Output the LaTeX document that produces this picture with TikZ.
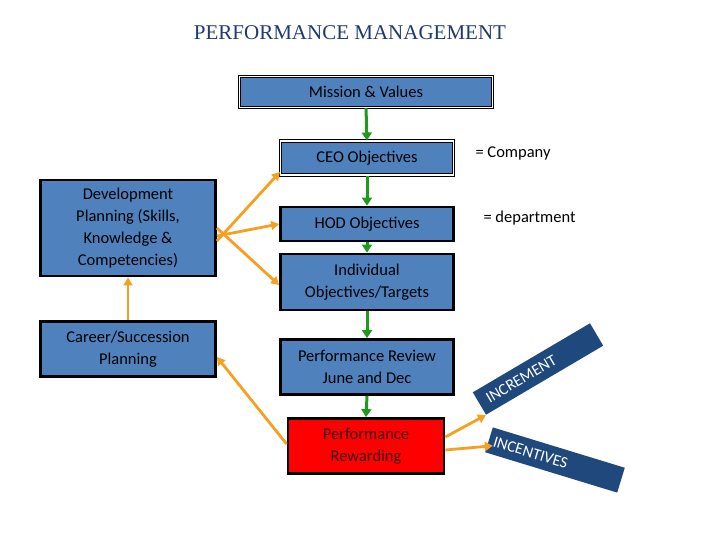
\documentclass[tikz,border=0pt]{standalone}
\usepackage{fontspec}
\setmainfont{Carlito}
\newfontfamily\titlefont{Liberation Serif}
\usetikzlibrary{arrows.meta}
\definecolor{boxblue}{HTML}{4F81BD}
\definecolor{navy}{HTML}{1F497D}
\definecolor{titleblue}{HTML}{1F3A6E}
\definecolor{orng}{HTML}{F5A020}
\definecolor{grn}{HTML}{1E9A1E}
\definecolor{rewtext}{HTML}{3A1414}
\begin{document}
\begin{tikzpicture}[x=1pt,y=-1pt,
  bx/.style={draw=black,line width=2.8pt,fill=boxblue,align=center,font=\fontsize{16.5}{22}\selectfont,inner sep=0pt},
  dbl/.style={draw=black,double=white,double distance=1.5pt,line width=1.1pt,fill=boxblue,align=center,font=\fontsize{16.5}{22}\selectfont,inner sep=0pt},
  garr/.style={draw=grn,line width=3pt,-{Triangle[length=8pt,width=10pt]}},
  oarr/.style={draw=orng,line width=2.8pt,-{Triangle[length=8pt,width=9pt]}},
  tag/.style={fill=navy,text=white,minimum height=26pt,inner sep=0pt,font=\fontsize{16}{18}\selectfont}]
\useasboundingbox (0,0) rectangle (720,540);
\node[font=\titlefont\fontsize{21}{24}\selectfont,text=titleblue] (title) at (350,33) {PERFORMANCE MANAGEMENT};
\node[dbl,minimum width=253pt,minimum height=31pt] (mis) at (366,92) {Mission \& Values};
\node[dbl,minimum width=173pt,minimum height=34pt] (ceo) at (367,158) {CEO Objectives};
\node[bx,minimum width=173pt,minimum height=34pt] (hod) at (367,224) {HOD Objectives};
\node[bx,minimum width=173pt,minimum height=56pt] (ind) at (367,282) {Individual\\Objectives/Targets};
\node[bx,minimum width=173pt,minimum height=55pt] (rev) at (367,367) {Performance Review\\June and Dec};
\node[bx,fill=red,minimum width=156pt,minimum height=55pt,text=rewtext] (rew) at (366,446) {Performance\\Rewarding};
\node[bx,minimum width=175pt,minimum height=96pt] (dev) at (128,228) {Development\\Planning (Skills,\\Knowledge \&\\Competencies)};
\node[bx,minimum width=175pt,minimum height=55pt] (car) at (128,349) {Career/Succession\\Planning};
\node[font=\fontsize{16.5}{18}\selectfont,anchor=west] (co) at (472,153) {= Company};
\node[font=\fontsize{16.5}{18}\selectfont,anchor=west] (dep) at (480,218) {= department};
\node[tag,minimum width=136pt,rotate=30.5,text width=130pt,align=left] (inc) at (538,369) {\hspace*{6pt}INCREMENT};
\node[tag,minimum width=138pt,rotate=-17,text width=132pt,align=left] (icv) at (555,460) {\hspace*{2pt}INCENTIVES};
\draw[garr] (mis.south) -- (ceo.north);
\draw[garr] (ceo.south) -- (hod.north);
\draw[garr] (hod.south) -- (ind.north);
\draw[garr] (ind.south) -- (rev.north);
\draw[garr] (rev.south) -- (rew.north);
\draw[oarr] ([yshift=-13pt]dev.east) -- ([yshift=-14pt]ceo.west);
\draw[oarr] ([yshift=-8pt]dev.east) -- (hod.west);
\draw[oarr] ([yshift=0pt]dev.east) -- ([yshift=-3pt]ind.west);
\draw[oarr] (car.north) -- (dev.south);
\draw[oarr] ([yshift=2pt]rew.west) -- ([yshift=-8pt]car.east);
\draw[oarr] ([yshift=9pt]rew.east) -- (inc.south west);
\draw[oarr] ([yshift=-4pt]rew.east) -- ([xshift=4pt,yshift=-6pt]icv.west);
\end{tikzpicture}
\end{document}
